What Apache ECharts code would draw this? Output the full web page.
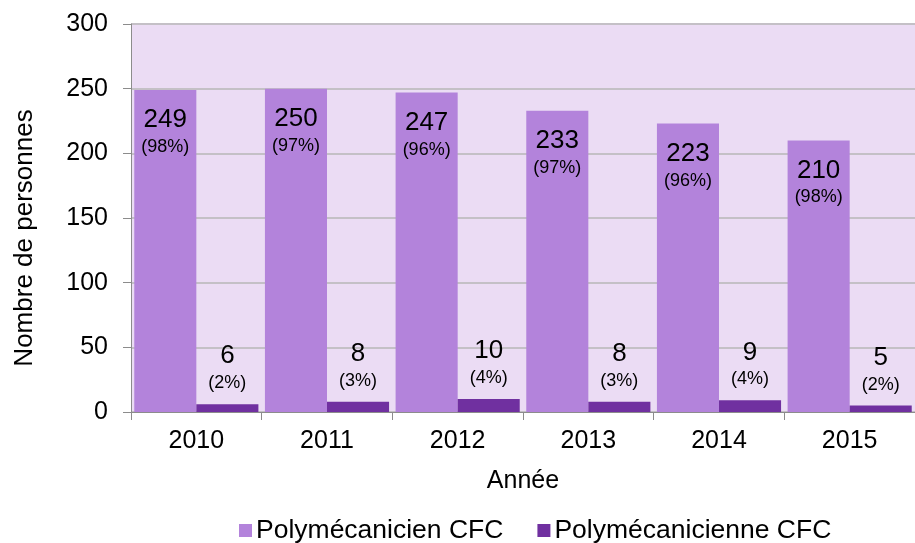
<!DOCTYPE html>
<html><head><meta charset="utf-8">
<script src="https://cdn.jsdelivr.net/npm/echarts@6/dist/echarts.min.js"></script>
<style>html,body{margin:0;padding:0;background:#fff}#c{width:915px;height:543px}</style>
</head><body><div id="c"></div>
<script>
var categories = ['2010','2011','2012','2013','2014','2015'];
var hommes = [249, 250, 247, 233, 223, 210];
var hommesPct = ['98%','97%','96%','97%','96%','98%'];
var femmes = [6, 8, 10, 8, 9, 5];
var femmesPct = ['2%','3%','4%','3%','4%','2%'];
var seriesNames = ['Polymécanicien CFC', 'Polymécanicienne CFC'];

var font = 'Liberation Sans, Arial, sans-serif';
var chart = echarts.init(document.getElementById('c'));
function lbl(pcts, pos, dist){
  return {
    show: true, position: pos, distance: dist,
    formatter: function(p){ return '{v|' + p.value + '}\n{p|(' + pcts[p.dataIndex] + ')}'; },
    rich: {
      v: {fontSize: 26, color: '#000', fontFamily: font, lineHeight: 28},
      p: {fontSize: 18, color: '#000', fontFamily: font, lineHeight: 26}
    }
  };
}
chart.setOption({
  animation: false,
  grid: {left: 131, right: 0, top: 24, bottom: 131, containLabel: false,
         show: true, backgroundColor: '#ebdcf4', borderWidth: 0},
  legend: {
    left: 234, top: 512, itemWidth: 13, itemHeight: 13, itemGap: 34,
    icon: 'rect',
    textStyle: {fontSize: 26.5, fontFamily: font, color: '#000', padding: [0,0,0,-1]},
    data: seriesNames
  },
  xAxis: {
    type: 'category', data: categories,
    name: 'Année', nameLocation: 'middle', nameGap: 57,
    nameTextStyle: {fontSize: 25, fontFamily: font, color: '#000'},
    axisLine: {lineStyle: {color: '#8c8c8c', width: 1}},
    axisTick: {show: true, length: 8, lineStyle: {color: '#8c8c8c'}},
    axisLabel: {fontSize: 25, fontFamily: font, color: '#000', margin: 17}
  },
  yAxis: {
    type: 'value', min: 0, max: 300, interval: 50,
    name: 'Nombre de personnes', nameLocation: 'middle', nameGap: 93, nameRotate: 90,
    nameTextStyle: {fontSize: 26, fontFamily: font, color: '#000', padding: [0, 40, 0, 0]},
    axisLine: {show: true, lineStyle: {color: '#8c8c8c'}},
    axisTick: {show: true, length: 8, lineStyle: {color: '#8c8c8c'}},
    axisLabel: {fontSize: 25, fontFamily: font, color: '#000', margin: 23},
    splitLine: {lineStyle: {color: '#c4c0c6', width: 2}}
  },
  series: [
    {name: seriesNames[0], type: 'bar', data: hommes, barGap: '0%', barCategoryGap: '5%',
     itemStyle: {color: '#b383db'}, label: lbl(hommesPct, 'insideTop', 16)},
    {name: seriesNames[1], type: 'bar', data: femmes, barGap: '0%', barCategoryGap: '5%',
     itemStyle: {color: '#7030a0'}, label: lbl(femmesPct, 'top', 8)}
  ]
});
</script></body></html>
